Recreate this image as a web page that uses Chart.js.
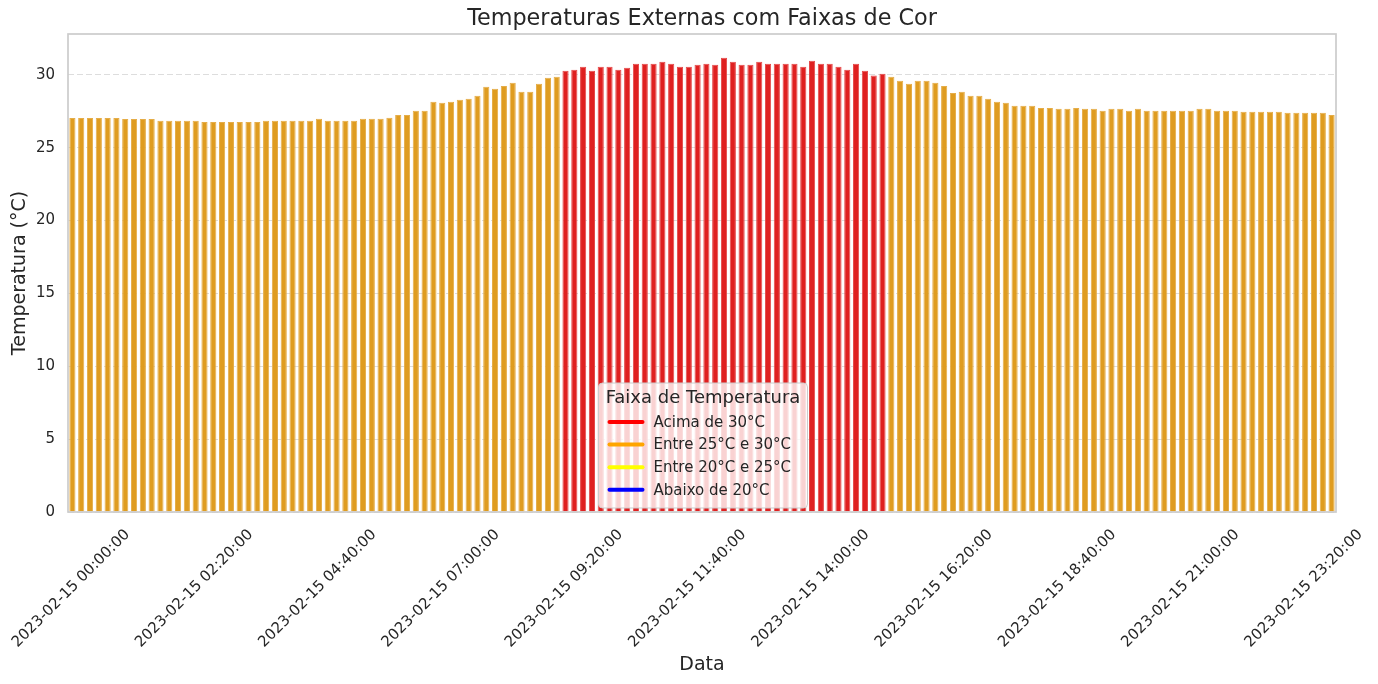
<!DOCTYPE html>
<html>
<head>
<meta charset="utf-8">
<script src="https://cdn.jsdelivr.net/npm/chart.js@4.4.1/dist/chart.umd.min.js"></script>
<style>
  html, body { margin: 0; padding: 0; background: #ffffff; }
  #wrap { width: 1378px; height: 684px; position: relative; }
</style>
</head>
<body>
<div id="wrap"><canvas id="c" width="1378" height="684"></canvas></div>
<script>
// ---- Data ----
const startLabel = "2023-02-15";
const timeLabels = [];
for (let i = 0; i < 144; i++) {
  const h = Math.floor(i / 6), m = (i % 6) * 10;
  timeLabels.push(startLabel + " " + String(h).padStart(2, "0") + ":" + String(m).padStart(2, "0") + ":00");
}
const temperatures = [
  27.03, 27.03, 27.03, 27.03, 27.03, 27.03, 26.96, 26.96, 26.96, 26.96,
  26.84, 26.84, 26.84, 26.84, 26.84, 26.77, 26.77, 26.77, 26.77, 26.77,
  26.77, 26.77, 26.84, 26.84, 26.84, 26.84, 26.84, 26.84, 26.98, 26.84,
  26.84, 26.84, 26.84, 26.98, 26.98, 26.98, 27.05, 27.25, 27.25, 27.53,
  27.53, 28.15, 28.08, 28.15, 28.28, 28.35, 28.56, 29.18, 29.04, 29.24,
  29.45, 28.83, 28.83, 29.38, 29.79, 29.86, 30.27, 30.34, 30.55, 30.27,
  30.55, 30.55, 30.34, 30.48, 30.76, 30.76, 30.76, 30.89, 30.76, 30.55,
  30.55, 30.69, 30.76, 30.69, 31.17, 30.89, 30.69, 30.69, 30.89, 30.76,
  30.76, 30.76, 30.76, 30.55, 30.96, 30.76, 30.76, 30.55, 30.34, 30.76,
  30.27, 29.95, 30.07, 29.86, 29.59, 29.38, 29.59, 29.59, 29.45, 29.24,
  28.76, 28.83, 28.56, 28.56, 28.35, 28.15, 28.08, 27.87, 27.87, 27.87,
  27.73, 27.73, 27.67, 27.67, 27.73, 27.67, 27.67, 27.53, 27.67, 27.67,
  27.53, 27.67, 27.53, 27.53, 27.53, 27.53, 27.53, 27.53, 27.67, 27.67,
  27.53, 27.53, 27.53, 27.46, 27.46, 27.46, 27.46, 27.46, 27.39, 27.39,
  27.39, 27.39, 27.39, 27.25
];
const yTickValues = [0, 5, 10, 15, 20, 25, 30];
const chartTitle = "Temperaturas Externas com Faixas de Cor";
const legendTitle = "Faixa de Temperatura";
const legendLabels = ["Acima de 30°C", "Entre 25°C e 30°C", "Entre 20°C e 25°C", "Abaixo de 20°C"];
const legendColors = ["#ff0000", "#ffa500", "#ffff00", "#0000ff"];

// ---- Styles ----
const barRed = "#df2020", barOrange = "#df9c20", barYellow = "#dfdf20", barBlue = "#2020df";
const edgeRed = "#e54a4a", edgeOrange = "#e5ad48", edgeYellow = "#e5e548", edgeBlue = "#4a4ae5";
function bandIndex(v) { return v > 29.9 ? 0 : (v > 25 ? 1 : (v > 20 ? 2 : 3)); }
const fillCols = [barRed, barOrange, barYellow, barBlue];
const edgeCols = [edgeRed, edgeOrange, edgeYellow, edgeBlue];
const textColor = "#262626";
const FONT = "'DejaVu Sans', sans-serif";

const framePlugin = {
  id: "frame",
  afterDatasetsDraw(chart) {
    const { ctx, chartArea: a } = chart;
    ctx.save();
    ctx.strokeStyle = "#cccccc";
    ctx.lineWidth = 1.7;
    ctx.strokeRect(a.left, a.top, a.right - a.left, a.bottom - a.top);
    ctx.restore();
  }
};

const titlePlugin = {
  id: "axesTitle",
  afterDraw(chart) {
    const { ctx, chartArea: a } = chart;
    ctx.save();
    ctx.fillStyle = textColor;
    ctx.font = "22.3px " + FONT;
    ctx.textAlign = "center";
    ctx.textBaseline = "middle";
    ctx.fillText(chartTitle, (a.left + a.right) / 2, 19);
    ctx.restore();
  }
};

const legendPlugin = {
  id: "boxLegend",
  afterDraw(chart) {
    const { ctx, chartArea: a } = chart;
    const w = 209, h = 125;
    const x = (a.left + a.right) / 2 - w / 2 + 1;
    const y = a.bottom - 4 - h;
    ctx.save();
    const r = 4;
    ctx.beginPath();
    ctx.moveTo(x + r, y);
    ctx.lineTo(x + w - r, y); ctx.quadraticCurveTo(x + w, y, x + w, y + r);
    ctx.lineTo(x + w, y + h - r); ctx.quadraticCurveTo(x + w, y + h, x + w - r, y + h);
    ctx.lineTo(x + r, y + h); ctx.quadraticCurveTo(x, y + h, x, y + h - r);
    ctx.lineTo(x, y + r); ctx.quadraticCurveTo(x, y, x + r, y);
    ctx.closePath();
    ctx.fillStyle = "rgba(255,255,255,0.8)";
    ctx.fill();
    ctx.strokeStyle = "#cccccc";
    ctx.lineWidth = 1;
    ctx.stroke();
    ctx.fillStyle = textColor;
    ctx.textBaseline = "middle";
    ctx.textAlign = "center";
    ctx.font = "18px " + FONT;
    ctx.fillText(legendTitle, x + w / 2, y + 15);
    ctx.textAlign = "left";
    ctx.font = "15px " + FONT;
    for (let i = 0; i < legendLabels.length; i++) {
      const ly = y + 39 + i * 22.6;
      ctx.strokeStyle = legendColors[i];
      ctx.lineWidth = 4;
      ctx.lineCap = "round";
      ctx.beginPath();
      ctx.moveTo(x + 11, ly);
      ctx.lineTo(x + 44, ly);
      ctx.stroke();
      ctx.fillStyle = textColor;
      ctx.fillText(legendLabels[i], x + 55, ly + 1);
    }
    ctx.restore();
  }
};

new Chart(document.getElementById("c"), {
  type: "bar",
  data: {
    labels: timeLabels,
    datasets: [{
      data: temperatures,
      backgroundColor: temperatures.map(v => fillCols[bandIndex(v)]),
      borderColor: temperatures.map(v => edgeCols[bandIndex(v)]),
      borderWidth: 1,
      barPercentage: 0.7,
      categoryPercentage: 1.0
    }]
  },
  options: {
    responsive: false,
    animation: false,
    devicePixelRatio: 1,
    layout: { padding: { left: 0, right: 42, top: 34, bottom: 0 } },
    plugins: {
      legend: { display: false },
      tooltip: { enabled: false },
      title: { display: false }
    },
    scales: {
      x: {
        grid: { display: false, drawTicks: false },
        border: { display: false },
        ticks: {
          autoSkip: false,
          maxRotation: 45,
          minRotation: 45,
          color: textColor,
          font: { family: FONT, size: 15 },
          padding: 14,
          labelOffset: 55,
          callback: function (val, idx) { return idx % 14 === 0 ? timeLabels[idx] : ""; }
        },
        title: {
          display: true,
          text: "Data",
          color: textColor,
          font: { family: FONT, size: 19 },
          padding: { top: 0, bottom: 8 }
        },
        afterFit(scale) { scale.paddingLeft = 0; scale.paddingRight = 0; scale.height = 172; }
      },
      y: {
        min: 0,
        max: 32.8,
        grid: { color: "#dddddd", lineWidth: 1, drawTicks: false },
        border: { display: false, dash: [6, 3] },
        afterBuildTicks(scale) { scale.ticks = yTickValues.map(v => ({ value: v })); },
        ticks: {
          color: textColor,
          font: { family: FONT, size: 15 },
          padding: 13
        },
        title: {
          display: true,
          text: "Temperatura (°C)",
          color: textColor,
          font: { family: FONT, size: 19 },
          padding: { top: 9, bottom: 0 }
        },
        afterFit(scale) { scale.width = 68; }
      }
    }
  },
  plugins: [framePlugin, titlePlugin, legendPlugin]
});
</script>
</body>
</html>
